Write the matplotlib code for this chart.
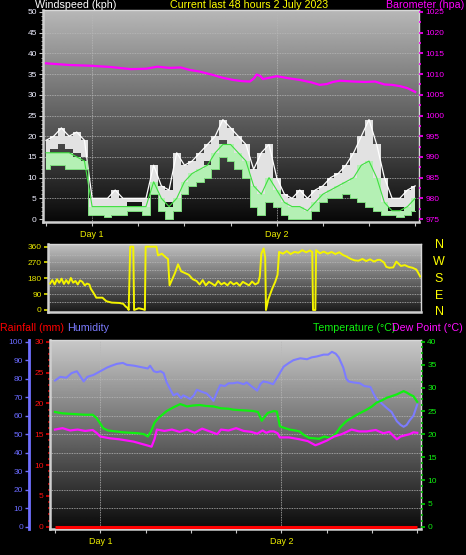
import numpy as np
import matplotlib
matplotlib.use("Agg")
import matplotlib.pyplot as plt
from matplotlib.ticker import MultipleLocator, FixedLocator

plt.rcParams['font.family'] = ['Liberation Sans', 'DejaVu Sans']

# ---------------- data ----------------
wind_hours = list(range(49))
gust_hi = [19, 20, 22, 20, 21, 19, 5, 5, 5, 7, 5, 5, 5, 5, 13, 8, 7, 16, 13, 14, 16, 18, 20, 24, 22,
           20, 18, 12, 16, 18, 10, 6, 5, 7, 5, 7, 8, 10, 11, 13, 16, 20, 24, 18, 10, 5, 5, 7, 8]
gust_lo = [16, 17, 18, 17, 16, 15, 3, 3, 3, 3, 3, 4, 4, 3, 9, 5, 4, 5, 9, 11, 12, 14, 16, 19, 18,
           16, 13, 7, 4, 8, 6, 3, 2, 3, 2, 4, 5, 6, 7, 8, 9, 10, 12, 8, 3, 3, 3, 3, 4]
avg_hi = [16, 16, 16, 16, 15, 14, 3, 3, 3, 3, 3, 3, 3, 3, 9, 5, 3, 5, 9, 11, 12, 13, 16, 18, 18,
          16, 14, 8, 6, 10, 7, 4, 3, 3, 2, 4, 6, 7, 8, 9, 10, 13, 14, 10, 4, 2, 2, 3, 5]
avg_lo = [12, 13, 13, 12, 12, 12, 1, 1, 0.5, 1, 1, 2, 2, 1, 6, 2, 0, 2, 6, 8, 9, 10, 12, 15, 14,
          12, 10, 3, 1, 4, 3, 1, 0, 0, 0, 2, 4, 5, 5, 6, 5, 4, 3, 2, 1, 1, 0.5, 1, 2]

baro_hours = [0, 3, 6, 8.5, 11, 13, 14.5, 16, 17.5, 18.7, 20, 21.7, 23, 24.3, 25.5, 26.5, 27.0,
              27.4, 27.9, 28.2, 29, 30, 31.5, 33, 34.5, 35.6, 36.5, 37.3, 38.2, 40, 41.5, 42.8,
              44, 45, 46, 47, 48]
baro = [1012.6, 1012.2, 1012.0, 1011.7, 1011.2, 1011.3, 1011.8, 1011.5, 1011.6, 1011.0, 1010.6,
        1009.8, 1009.1, 1008.6, 1008.3, 1008.2, 1008.9, 1009.9, 1009.5, 1008.8, 1009.1, 1009.5,
        1009.0, 1008.6, 1008.0, 1007.4, 1007.6, 1008.1, 1008.4, 1008.2, 1008.1, 1008.2, 1007.5,
        1007.4, 1007.1, 1006.6, 1005.7]

dir_hours = [0, 0.3, 0.6, 0.9, 1.2, 1.5, 1.8, 2.1, 2.4, 2.7, 3.0, 3.3, 3.6, 3.9, 4.2, 4.5, 4.8,
             5.1, 5.3, 5.6, 6.0, 6.8, 7.3, 8.0, 9.0, 9.5, 9.8, 10.1, 10.2, 10.4, 10.8, 10.9, 11.5,
             12.0, 12.3, 12.4, 13.8, 14.0, 14.5, 15.0, 15.3, 15.5, 15.8, 16.2, 16.6, 17.0, 17.5,
             18.0, 18.5, 19.0, 19.4, 19.8, 20.2, 20.6, 21.0, 21.4, 21.8, 22.2, 22.6, 23.0, 23.4,
             23.8, 24.2, 24.6, 25.0, 25.4, 25.8, 26.2, 26.6, 27.0, 27.2, 27.4, 27.7, 27.9, 28.0,
             28.3, 28.8, 29.2, 29.5, 29.7, 30.2, 30.7, 31.2, 31.7, 32.2, 32.7, 33.2, 33.7, 34.0,
             34.1, 34.4, 34.5, 35.0, 35.5, 36.0, 36.5, 37.0, 37.5, 38.0, 38.4, 39.0, 39.5, 40.0,
             40.5, 41.0, 41.5, 42.0, 42.5, 42.8, 43.3, 43.6, 44.0, 44.5, 44.9, 45.5, 46.0, 46.5,
             47.0, 47.5, 48.0]
dir_deg = [150, 170, 145, 175, 155, 178, 148, 170, 150, 182, 155, 165, 145, 168, 160, 140, 150,
           145, 120, 100, 70, 70, 50, 42, 40, 35, 20, 10, 0, 360, 360, 0, 10,
           5, 0, 360, 360, 310, 320, 300, 290, 140, 170, 210, 260, 220, 210,
           200, 175, 165, 145, 170, 140, 160, 150, 138, 165, 145, 155, 140, 160,
           145, 155, 138, 160, 150, 140, 162, 145, 155, 190, 320, 350, 300, 0,
           60, 120, 160, 200, 330, 320, 335, 318, 330, 325, 340, 328, 338, 330,
           0, 0, 340, 322, 332, 320, 330, 318, 328, 312, 305, 290, 282, 280,
           290, 278, 288, 275, 285, 285, 270, 245, 240, 242, 275, 250, 255, 245,
           240, 230, 190]

th_hours = [0, 0.7, 1.5, 2.2, 2.9, 3.4, 3.8, 4.3, 5.1, 6, 6.9, 7.5, 8.2, 9, 9.5, 10.5, 11.7,
            12.3, 12.6, 13.1, 13.5, 14, 14.4, 14.8, 15.3, 15.7, 16.2, 16.7, 17, 17.5, 17.9,
            18.4, 18.8, 19.4, 20.1, 20.6, 21, 21.5, 21.9, 22.5, 23, 23.6, 24.2, 25, 25.4, 26,
            26.8, 27.2, 27.6, 28.2, 28.9, 29.5, 30.3, 31, 31.6, 32.5, 33.4, 34, 34.7, 35.6,
            36.2, 36.7, 37.2, 37.6, 38.2, 38.6, 38.9, 39.5, 40.4, 41, 41.8, 42.2, 42.6, 43.2,
            44, 44.6, 45.3, 45.8, 46.2, 46.6, 47, 47.5, 48]
humidity = [79, 81, 80.5, 83, 84, 81, 78.5, 81, 82, 84, 86, 87, 88, 88.5, 87.5, 87, 86,
            85.5, 87, 84, 83.5, 84, 83, 78, 74, 71, 72, 69.5, 71, 70, 69,
            71, 74, 73, 72, 70, 68, 73, 76.5, 76, 77.5, 77.5, 78, 77, 78, 76,
            73.5, 77, 78.5, 78, 77, 81, 86.5, 88.5, 90, 91, 90.5, 91.5, 92, 93,
            93, 94.5, 93.5, 91.5, 86, 80, 78.5, 78, 77.5, 76, 75.5, 72, 69, 67,
            64, 62, 57, 55, 54, 55, 57.5, 60, 66]

temp_hours = [0, 1, 2, 3, 4, 5, 5.5, 6, 6.4, 7, 8, 9, 10, 11, 11.8, 12.3, 12.7, 13.2, 13.7,
              14.3, 14.8, 15.7, 16.6, 17.5, 18.3, 19.2, 20, 21, 22, 23, 23.6, 24.5, 25.5, 26.3,
              26.9, 27.4, 27.8, 28.2, 29, 29.4, 29.8, 30.5, 31.1, 31.8, 32.4, 33, 33.7, 34.4,
              35, 35.7, 36.4, 37, 37.3, 37.8, 38.6, 39.3, 40, 40.7, 41.3, 42, 42.6, 43.3, 44,
              44.6, 45.3, 45.8, 46.2, 46.6, 47, 47.5, 48]
temperature = [24.8, 24.5, 24.4, 24.3, 24.2, 24.2, 23.5, 22.3, 21.3, 20.8, 20.6, 20.4, 20.3,
               20.2, 20.0, 19.5, 20.5, 22.5, 23.5, 24.3, 25.0, 25.8, 26.5, 26.0, 26.2, 26.3,
               26.1, 26.0, 25.6, 25.5, 25.3, 25.2, 25.1, 25.0, 24.8, 22.9, 23.8, 24.6, 25.0,
               24.9, 21.7, 21.3, 21.0, 20.8, 20.6, 19.8, 19.2, 19.1, 19.0, 19.5, 19.2, 19.8,
               20.3, 21.5, 22.8, 23.5, 24.2, 24.8, 25.3, 26.0, 26.8, 27.3, 27.9, 28.2, 28.6,
               29.0, 29.3, 29.0, 28.6, 28.2, 27.0]

dew_hours = [0, 1, 2, 3, 4, 5, 5.5, 6, 7.3, 8.5, 10.4, 11.5, 12.8, 13.2, 13.5, 14.5, 15.5,
             16.5, 17.5, 18.5, 19.5, 20.5, 21.5, 22, 23, 24, 25, 26, 26.8, 27.5, 28, 28.5, 29,
             29.5, 29.8, 31, 32.4, 33.5, 34.5, 35, 36, 37, 38, 39.3, 40.3, 41.3, 42.5, 43.5,
             44.3, 45.3, 45.8, 46.5, 47, 47.5, 48]
dew_point = [21.0, 21.3, 20.8, 21.0, 20.7, 20.9, 20.3, 19.5, 19.1, 18.9, 18.4, 17.9, 17.3, 19.0,
             21.0, 20.7, 21.0, 20.5, 21.0, 20.3, 21.2, 20.6, 20.0, 21.0, 20.8, 21.3, 20.7, 20.5,
             20.1, 20.8, 20.3, 20.6, 20.6, 20.2, 19.3, 19.3, 18.9, 18.5, 17.6, 17.9, 18.6, 19.5,
             20.0, 21.0, 20.6, 20.6, 20.9, 20.2, 20.5, 18.9, 19.5, 19.8, 20.0, 20.4, 20.3]

rain_hours = [0, 48]
rainfall = [0, 0]

day_ticks = [6, 30]
day_labels = ['Day 1', 'Day 2']
dir_ticks = [0, 90, 180, 270, 360]
compass = ['N', 'W', 'S', 'E', 'N']

# ---------------- figure ----------------
W, H = 466, 555
fig = plt.figure(figsize=(W / 100, H / 100), dpi=100, facecolor='black')


def px_axes(x0, y0, x1, y1):
    return fig.add_axes([x0 / W, 1 - y1 / H, (x1 - x0) / W, (y1 - y0) / H])


def gradient(ax, top, bottom):
    g = np.linspace(top, bottom, 256).reshape(-1, 1)
    ax.imshow(g, cmap='gray', vmin=0, vmax=1, extent=[0, 1, 0, 1],
              transform=ax.transAxes, aspect='auto', zorder=0, interpolation='bilinear')


def frame(ax):
    for s in ['left', 'bottom']:
        ax.spines[s].set_color('#cfcfcf')
        ax.spines[s].set_linewidth(1.8)
    for s in ['top', 'right']:
        ax.spines[s].set_color('#d8d8d8')
        ax.spines[s].set_linewidth(1.0)


GRID = dict(color='#b8b8b8', lw=0.6, ls=(0, (1, 1)), zorder=1)

# ---------- panel 1: wind + barometer ----------
ax1 = px_axes(43, 10, 419, 222)
ax1.set_facecolor('black')
gradient(ax1, 0.72, 0.03)
ax1.set_xlim(-0.39, 48.5)
ax1.set_ylim(-0.72, 50.48)
for v in range(5, 50, 5):
    ax1.axhline(v, **GRID)
for d in day_ticks:
    ax1.axvline(d, **GRID)

ax1.fill_between(wind_hours, gust_lo, gust_hi, step='mid', color='#e2e2e2', lw=0, zorder=2)
ax1.plot(wind_hours, gust_hi, color='#ffffff', lw=0.9, zorder=3)
ax1.fill_between(wind_hours, avg_lo, avg_hi, step='mid', color='#b4f0b4', lw=0, zorder=4)
ax1.plot(wind_hours, avg_hi, color='#40e040', lw=0.8, zorder=5)
ax1.plot(wind_hours, avg_lo, color='#80e080', lw=0.7, drawstyle='steps-mid', zorder=5)

frame(ax1)
ax1.yaxis.set_major_locator(MultipleLocator(5))
ax1.yaxis.set_minor_locator(MultipleLocator(1))
ax1.tick_params(axis='y', which='major', colors='#c8c8c8', labelcolor='#eeeeff',
                labelsize=6, length=3, width=0.8, pad=1.5)
ax1.tick_params(axis='y', which='minor', colors='#c8c8c8', length=1.5, width=0.6)
ax1.xaxis.set_major_locator(FixedLocator(day_ticks))
ax1.set_xticklabels(day_labels)
ax1.xaxis.set_minor_locator(MultipleLocator(6))
ax1.tick_params(axis='x', which='both', colors='#c8c8c8', labelcolor='#f0f000',
                labelsize=6.5, length=3, width=0.8, pad=3)

axb = ax1.twinx()
axb.set_ylim(975 - 0.72, 975 + 50.48)
axb.plot(baro_hours, baro, color='#ff00ff', lw=1.6, zorder=6)
axb.yaxis.set_major_locator(MultipleLocator(5))
axb.yaxis.set_minor_locator(MultipleLocator(2.5))
axb.tick_params(axis='y', which='major', colors='#ff00ff', labelcolor='#ff00ff',
                labelsize=6, length=3, width=1.2, pad=1.5)
axb.tick_params(axis='y', which='minor', colors='#ff00ff', length=1.5, width=1.2)
for s in axb.spines.values():
    s.set_visible(False)

# ---------- panel 2: wind direction ----------
ax2 = px_axes(48, 244, 421, 312)
ax2.set_facecolor('black')
gradient(ax2, 0.76, 0.1)
ax2.set_xlim(-0.26, 48.1)
ax2.set_ylim(-11.4, 375)
for v in range(45, 360, 45):
    ax2.axhline(v, **GRID)
ax2.plot(dir_hours, dir_deg, color='#f4f400', lw=1.4, zorder=3)
frame(ax2)
ax2.set_xticks([])
ax2.set_yticks(dir_ticks)
ax2.tick_params(axis='y', colors='#e0e000', labelcolor='#e8e800', labelsize=6,
                length=3, width=1.2, pad=1.5)
for lab, yp in zip(compass, [245, 262, 279, 296, 312]):
    fig.text(439 / W, 1 - yp / H, lab, color='#ffff00', fontsize=9, ha='center', va='center')

# ---------- panel 3: rain / humidity / temperature / dew ----------
ax3 = px_axes(50, 340, 421, 529)
ax3.set_facecolor('black')
gradient(ax3, 0.79, 0.04)
ax3.set_xlim(-0.66, 48.5)
ax3.set_ylim(-0.37, 30.27)
for v in range(1, 10):
    ax3.axhline(v * 3, **GRID)
for d in day_ticks:
    ax3.axvline(d, **GRID)
frame(ax3)
ax3.yaxis.set_major_locator(MultipleLocator(5))
ax3.yaxis.set_minor_locator(MultipleLocator(1))
ax3.tick_params(axis='y', which='major', colors='#e00000', labelcolor='#ff1010',
                labelsize=6, length=3, width=1.2, pad=1.5)
ax3.tick_params(axis='y', which='minor', colors='#c00000', length=1.5, width=1.2)
ax3.xaxis.set_major_locator(FixedLocator(day_ticks))
ax3.set_xticklabels(day_labels)
ax3.xaxis.set_minor_locator(MultipleLocator(6))
ax3.tick_params(axis='x', which='both', colors='#c8c8c8', labelcolor='#f0f000',
                labelsize=6.5, length=3, width=0.8, pad=3)

axh = ax3.twinx()
axh.set_ylim(-1.24, 100.9)
axh.yaxis.set_ticks_position('left')
axh.yaxis.set_label_position('left')
axh.spines['left'].set_position(('outward', 15))
axh.spines['left'].set_visible(True)
axh.spines['left'].set_color('#7070ff')
axh.spines['left'].set_linewidth(2)
for s in ['top', 'right', 'bottom']:
    axh.spines[s].set_visible(False)
axh.yaxis.set_major_locator(MultipleLocator(10))
axh.tick_params(axis='y', colors='#7070ff', labelcolor='#6a6aff', labelsize=6,
                length=3, width=1.0, pad=1.5)
axh.plot(th_hours, humidity, color='#7c7cff', lw=1.5, zorder=3)

axt = ax3.twinx()
axt.set_ylim(-0.5, 40.36)
for s in axt.spines.values():
    s.set_visible(False)
axt.yaxis.set_major_locator(MultipleLocator(5))
axt.yaxis.set_minor_locator(MultipleLocator(1.25))
axt.tick_params(axis='y', which='major', colors='#00d000', labelcolor='#10f010',
                labelsize=6, length=3, width=1.2, pad=1.5)
axt.tick_params(axis='y', which='minor', colors='#00c000', length=1.5, width=1.2)
axt.plot(temp_hours, temperature, color='#10f010', lw=1.6, zorder=4)
axt.plot(dew_hours, dew_point, color='#ff10ff', lw=1.6, zorder=4)
axt.plot(rain_hours, [r * 40.0 / 30.0 for r in rainfall], color='#ff0000', lw=2.2,
         zorder=5, solid_capstyle='butt')

# ---------- headers ----------
HK = dict(fontsize=7.7, va='baseline')
fig.text(35 / W, 1 - 8.5 / H, 'Windspeed (kph)', color='white', **HK)
fig.text(249.5 / W, 1 - 8.5 / H, 'Current last 48 hours 2 July 2023', color='#ffff00',
         ha='center', **HK)
fig.text(464 / W, 1 - 8.5 / H, 'Barometer (hpa)', color='#ff00ff', ha='right', **HK)
fig.text(0.5 / W, 1 - 331 / H, 'Rainfall (mm)', color='#ff0000', **HK)
fig.text(67 / W, 1 - 331 / H, 'Humidity', color='#7b7bff', **HK)
fig.text(313 / W, 1 - 331 / H, 'Temperature (°C)', color='#10f010', **HK)
fig.text(392 / W, 1 - 331 / H, 'Dew Point (°C)', color='#ff10ff', **HK)

fig.savefig('out.png', dpi=100, facecolor='black')
